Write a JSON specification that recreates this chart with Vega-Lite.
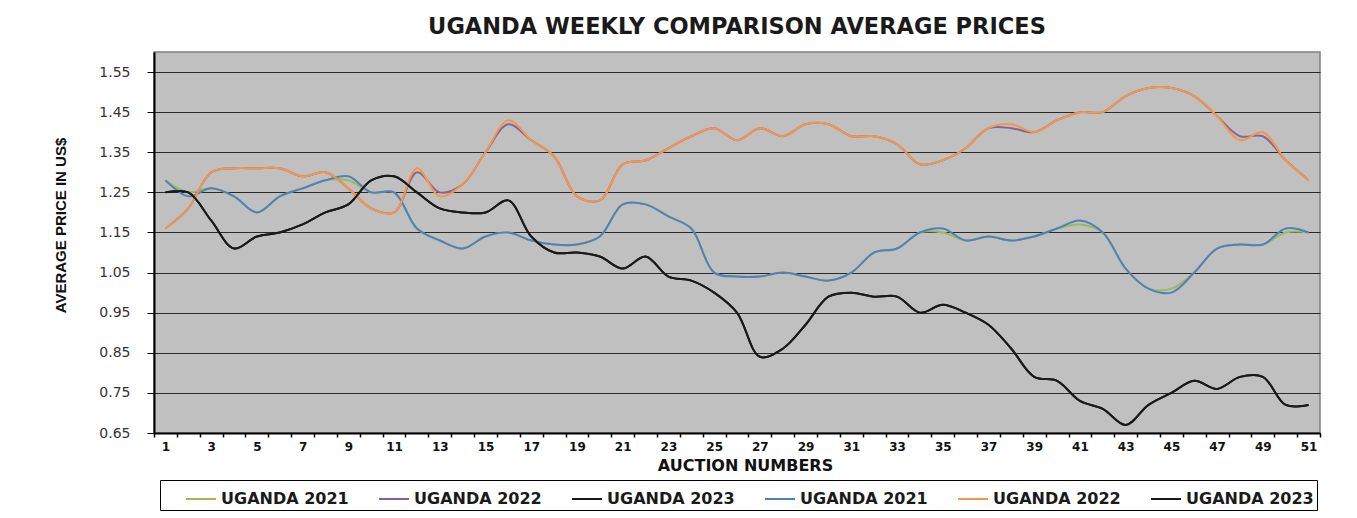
{
  "$schema": "https://vega.github.io/schema/vega-lite/v6.json",
  "width": 1166,
  "height": 381,
  "autosize": {"type": "none"},
  "padding": {"left": 154, "top": 52, "right": 37, "bottom": 85},
  "background": "#ffffff",
  "title": {
    "text": "UGANDA WEEKLY COMPARISON AVERAGE PRICES",
    "font": "DejaVu Sans",
    "fontSize": 22.5,
    "fontWeight": "bold",
    "color": "#1a1a1a",
    "anchor": "middle",
    "baseline": "bottom",
    "offset": -9
  },
  "data": {
    "values": [
      {"n":1,"s":"s1","v":1.28},{"n":2,"s":"s1","v":1.25},{"n":3,"s":"s1","v":1.26},{"n":4,"s":"s1","v":1.24},{"n":5,"s":"s1","v":1.20},{"n":6,"s":"s1","v":1.24},{"n":7,"s":"s1","v":1.26},{"n":8,"s":"s1","v":1.28},{"n":9,"s":"s1","v":1.28},{"n":10,"s":"s1","v":1.25},
      {"n":11,"s":"s1","v":1.25},{"n":12,"s":"s1","v":1.16},{"n":13,"s":"s1","v":1.13},{"n":14,"s":"s1","v":1.11},{"n":15,"s":"s1","v":1.14},{"n":16,"s":"s1","v":1.15},{"n":17,"s":"s1","v":1.13},{"n":18,"s":"s1","v":1.12},{"n":19,"s":"s1","v":1.12},{"n":20,"s":"s1","v":1.14},
      {"n":21,"s":"s1","v":1.22},{"n":22,"s":"s1","v":1.22},{"n":23,"s":"s1","v":1.19},{"n":24,"s":"s1","v":1.16},{"n":25,"s":"s1","v":1.05},{"n":26,"s":"s1","v":1.04},{"n":27,"s":"s1","v":1.04},{"n":28,"s":"s1","v":1.05},{"n":29,"s":"s1","v":1.04},{"n":30,"s":"s1","v":1.03},
      {"n":31,"s":"s1","v":1.05},{"n":32,"s":"s1","v":1.10},{"n":33,"s":"s1","v":1.11},{"n":34,"s":"s1","v":1.15},{"n":35,"s":"s1","v":1.15},{"n":36,"s":"s1","v":1.13},{"n":37,"s":"s1","v":1.14},{"n":38,"s":"s1","v":1.13},{"n":39,"s":"s1","v":1.14},{"n":40,"s":"s1","v":1.16},
      {"n":41,"s":"s1","v":1.17},{"n":42,"s":"s1","v":1.15},{"n":43,"s":"s1","v":1.06},{"n":44,"s":"s1","v":1.01},{"n":45,"s":"s1","v":1.01},{"n":46,"s":"s1","v":1.05},{"n":47,"s":"s1","v":1.11},{"n":48,"s":"s1","v":1.12},{"n":49,"s":"s1","v":1.12},{"n":50,"s":"s1","v":1.15},{"n":51,"s":"s1","v":1.15},

      {"n":1,"s":"s2","v":1.16},{"n":2,"s":"s2","v":1.21},{"n":3,"s":"s2","v":1.30},{"n":4,"s":"s2","v":1.31},{"n":5,"s":"s2","v":1.31},{"n":6,"s":"s2","v":1.31},{"n":7,"s":"s2","v":1.29},{"n":8,"s":"s2","v":1.30},{"n":9,"s":"s2","v":1.26},{"n":10,"s":"s2","v":1.21},
      {"n":11,"s":"s2","v":1.20},{"n":12,"s":"s2","v":1.30},{"n":13,"s":"s2","v":1.25},{"n":14,"s":"s2","v":1.27},{"n":15,"s":"s2","v":1.35},{"n":16,"s":"s2","v":1.42},{"n":17,"s":"s2","v":1.38},{"n":18,"s":"s2","v":1.34},{"n":19,"s":"s2","v":1.24},{"n":20,"s":"s2","v":1.23},
      {"n":21,"s":"s2","v":1.32},{"n":22,"s":"s2","v":1.33},{"n":23,"s":"s2","v":1.36},{"n":24,"s":"s2","v":1.39},{"n":25,"s":"s2","v":1.41},{"n":26,"s":"s2","v":1.38},{"n":27,"s":"s2","v":1.41},{"n":28,"s":"s2","v":1.39},{"n":29,"s":"s2","v":1.42},{"n":30,"s":"s2","v":1.42},
      {"n":31,"s":"s2","v":1.39},{"n":32,"s":"s2","v":1.39},{"n":33,"s":"s2","v":1.37},{"n":34,"s":"s2","v":1.32},{"n":35,"s":"s2","v":1.33},{"n":36,"s":"s2","v":1.36},{"n":37,"s":"s2","v":1.41},{"n":38,"s":"s2","v":1.41},{"n":39,"s":"s2","v":1.40},{"n":40,"s":"s2","v":1.43},
      {"n":41,"s":"s2","v":1.45},{"n":42,"s":"s2","v":1.45},{"n":43,"s":"s2","v":1.49},{"n":44,"s":"s2","v":1.51},{"n":45,"s":"s2","v":1.51},{"n":46,"s":"s2","v":1.49},{"n":47,"s":"s2","v":1.44},{"n":48,"s":"s2","v":1.39},{"n":49,"s":"s2","v":1.39},{"n":50,"s":"s2","v":1.33},{"n":51,"s":"s2","v":1.28},

      {"n":1,"s":"s3","v":1.25},{"n":2,"s":"s3","v":1.25},{"n":3,"s":"s3","v":1.18},{"n":4,"s":"s3","v":1.11},{"n":5,"s":"s3","v":1.14},{"n":6,"s":"s3","v":1.15},{"n":7,"s":"s3","v":1.17},{"n":8,"s":"s3","v":1.20},{"n":9,"s":"s3","v":1.22},{"n":10,"s":"s3","v":1.28},
      {"n":11,"s":"s3","v":1.29},{"n":12,"s":"s3","v":1.25},{"n":13,"s":"s3","v":1.21},{"n":14,"s":"s3","v":1.20},{"n":15,"s":"s3","v":1.20},{"n":16,"s":"s3","v":1.23},{"n":17,"s":"s3","v":1.14},{"n":18,"s":"s3","v":1.10},{"n":19,"s":"s3","v":1.10},{"n":20,"s":"s3","v":1.09},
      {"n":21,"s":"s3","v":1.06},{"n":22,"s":"s3","v":1.09},{"n":23,"s":"s3","v":1.04},{"n":24,"s":"s3","v":1.03},{"n":25,"s":"s3","v":1.00},{"n":26,"s":"s3","v":0.95},{"n":27,"s":"s3","v":0.84},{"n":28,"s":"s3","v":0.86},{"n":29,"s":"s3","v":0.92},{"n":30,"s":"s3","v":0.99},
      {"n":31,"s":"s3","v":1.00},{"n":32,"s":"s3","v":0.99},{"n":33,"s":"s3","v":0.99},{"n":34,"s":"s3","v":0.95},{"n":35,"s":"s3","v":0.97},{"n":36,"s":"s3","v":0.95},{"n":37,"s":"s3","v":0.92},{"n":38,"s":"s3","v":0.86},{"n":39,"s":"s3","v":0.79},{"n":40,"s":"s3","v":0.78},
      {"n":41,"s":"s3","v":0.73},{"n":42,"s":"s3","v":0.71},{"n":43,"s":"s3","v":0.67},{"n":44,"s":"s3","v":0.72},{"n":45,"s":"s3","v":0.75},{"n":46,"s":"s3","v":0.78},{"n":47,"s":"s3","v":0.76},{"n":48,"s":"s3","v":0.79},{"n":49,"s":"s3","v":0.79},{"n":50,"s":"s3","v":0.72},{"n":51,"s":"s3","v":0.72},

      {"n":1,"s":"s4","v":1.28},{"n":2,"s":"s4","v":1.24},{"n":3,"s":"s4","v":1.26},{"n":4,"s":"s4","v":1.24},{"n":5,"s":"s4","v":1.20},{"n":6,"s":"s4","v":1.24},{"n":7,"s":"s4","v":1.26},{"n":8,"s":"s4","v":1.28},{"n":9,"s":"s4","v":1.29},{"n":10,"s":"s4","v":1.25},
      {"n":11,"s":"s4","v":1.25},{"n":12,"s":"s4","v":1.16},{"n":13,"s":"s4","v":1.13},{"n":14,"s":"s4","v":1.11},{"n":15,"s":"s4","v":1.14},{"n":16,"s":"s4","v":1.15},{"n":17,"s":"s4","v":1.13},{"n":18,"s":"s4","v":1.12},{"n":19,"s":"s4","v":1.12},{"n":20,"s":"s4","v":1.14},
      {"n":21,"s":"s4","v":1.22},{"n":22,"s":"s4","v":1.22},{"n":23,"s":"s4","v":1.19},{"n":24,"s":"s4","v":1.16},{"n":25,"s":"s4","v":1.05},{"n":26,"s":"s4","v":1.04},{"n":27,"s":"s4","v":1.04},{"n":28,"s":"s4","v":1.05},{"n":29,"s":"s4","v":1.04},{"n":30,"s":"s4","v":1.03},
      {"n":31,"s":"s4","v":1.05},{"n":32,"s":"s4","v":1.10},{"n":33,"s":"s4","v":1.11},{"n":34,"s":"s4","v":1.15},{"n":35,"s":"s4","v":1.16},{"n":36,"s":"s4","v":1.13},{"n":37,"s":"s4","v":1.14},{"n":38,"s":"s4","v":1.13},{"n":39,"s":"s4","v":1.14},{"n":40,"s":"s4","v":1.16},
      {"n":41,"s":"s4","v":1.18},{"n":42,"s":"s4","v":1.15},{"n":43,"s":"s4","v":1.06},{"n":44,"s":"s4","v":1.01},{"n":45,"s":"s4","v":1.00},{"n":46,"s":"s4","v":1.05},{"n":47,"s":"s4","v":1.11},{"n":48,"s":"s4","v":1.12},{"n":49,"s":"s4","v":1.12},{"n":50,"s":"s4","v":1.16},{"n":51,"s":"s4","v":1.15},

      {"n":1,"s":"s5","v":1.16},{"n":2,"s":"s5","v":1.21},{"n":3,"s":"s5","v":1.30},{"n":4,"s":"s5","v":1.31},{"n":5,"s":"s5","v":1.31},{"n":6,"s":"s5","v":1.31},{"n":7,"s":"s5","v":1.29},{"n":8,"s":"s5","v":1.30},{"n":9,"s":"s5","v":1.26},{"n":10,"s":"s5","v":1.21},
      {"n":11,"s":"s5","v":1.20},{"n":12,"s":"s5","v":1.31},{"n":13,"s":"s5","v":1.24},{"n":14,"s":"s5","v":1.27},{"n":15,"s":"s5","v":1.35},{"n":16,"s":"s5","v":1.43},{"n":17,"s":"s5","v":1.38},{"n":18,"s":"s5","v":1.34},{"n":19,"s":"s5","v":1.24},{"n":20,"s":"s5","v":1.23},
      {"n":21,"s":"s5","v":1.32},{"n":22,"s":"s5","v":1.33},{"n":23,"s":"s5","v":1.36},{"n":24,"s":"s5","v":1.39},{"n":25,"s":"s5","v":1.41},{"n":26,"s":"s5","v":1.38},{"n":27,"s":"s5","v":1.41},{"n":28,"s":"s5","v":1.39},{"n":29,"s":"s5","v":1.42},{"n":30,"s":"s5","v":1.42},
      {"n":31,"s":"s5","v":1.39},{"n":32,"s":"s5","v":1.39},{"n":33,"s":"s5","v":1.37},{"n":34,"s":"s5","v":1.32},{"n":35,"s":"s5","v":1.33},{"n":36,"s":"s5","v":1.36},{"n":37,"s":"s5","v":1.41},{"n":38,"s":"s5","v":1.42},{"n":39,"s":"s5","v":1.40},{"n":40,"s":"s5","v":1.43},
      {"n":41,"s":"s5","v":1.45},{"n":42,"s":"s5","v":1.45},{"n":43,"s":"s5","v":1.49},{"n":44,"s":"s5","v":1.51},{"n":45,"s":"s5","v":1.51},{"n":46,"s":"s5","v":1.49},{"n":47,"s":"s5","v":1.44},{"n":48,"s":"s5","v":1.38},{"n":49,"s":"s5","v":1.40},{"n":50,"s":"s5","v":1.33},{"n":51,"s":"s5","v":1.28},

      {"n":1,"s":"s6","v":1.25},{"n":2,"s":"s6","v":1.25},{"n":3,"s":"s6","v":1.18},{"n":4,"s":"s6","v":1.11},{"n":5,"s":"s6","v":1.14},{"n":6,"s":"s6","v":1.15},{"n":7,"s":"s6","v":1.17},{"n":8,"s":"s6","v":1.20},{"n":9,"s":"s6","v":1.22},{"n":10,"s":"s6","v":1.28},
      {"n":11,"s":"s6","v":1.29},{"n":12,"s":"s6","v":1.25},{"n":13,"s":"s6","v":1.21},{"n":14,"s":"s6","v":1.20},{"n":15,"s":"s6","v":1.20},{"n":16,"s":"s6","v":1.23},{"n":17,"s":"s6","v":1.14},{"n":18,"s":"s6","v":1.10},{"n":19,"s":"s6","v":1.10},{"n":20,"s":"s6","v":1.09},
      {"n":21,"s":"s6","v":1.06},{"n":22,"s":"s6","v":1.09},{"n":23,"s":"s6","v":1.04},{"n":24,"s":"s6","v":1.03},{"n":25,"s":"s6","v":1.00},{"n":26,"s":"s6","v":0.95},{"n":27,"s":"s6","v":0.84},{"n":28,"s":"s6","v":0.86},{"n":29,"s":"s6","v":0.92},{"n":30,"s":"s6","v":0.99},
      {"n":31,"s":"s6","v":1.00},{"n":32,"s":"s6","v":0.99},{"n":33,"s":"s6","v":0.99},{"n":34,"s":"s6","v":0.95},{"n":35,"s":"s6","v":0.97},{"n":36,"s":"s6","v":0.95},{"n":37,"s":"s6","v":0.92},{"n":38,"s":"s6","v":0.86},{"n":39,"s":"s6","v":0.79},{"n":40,"s":"s6","v":0.78},
      {"n":41,"s":"s6","v":0.73},{"n":42,"s":"s6","v":0.71},{"n":43,"s":"s6","v":0.67},{"n":44,"s":"s6","v":0.72},{"n":45,"s":"s6","v":0.75},{"n":46,"s":"s6","v":0.78},{"n":47,"s":"s6","v":0.76},{"n":48,"s":"s6","v":0.79},{"n":49,"s":"s6","v":0.79},{"n":50,"s":"s6","v":0.72},{"n":51,"s":"s6","v":0.72}
    ]
  },
  "mark": {"type": "line", "interpolate": "catmull-rom"},
  "encoding": {
    "x": {
      "field": "n",
      "type": "ordinal",
      "scale": {"type": "band", "paddingInner": 0, "paddingOuter": 0},
      "axis": {
        "title": "AUCTION NUMBERS",
        "titleFont": "DejaVu Sans",
        "titleFontSize": 16,
        "titleFontWeight": "bold",
        "titleColor": "#111111",
        "titlePadding": 5,
        "titleX": 591,
        "labelAngle": 0,
        "labelOverlap": false,
        "labelExpr": "datum.value % 2 == 1 ? datum.label : ''",
        "labelFont": "DejaVu Sans",
        "labelFontSize": 12,
        "labelFontWeight": "bold",
        "labelColor": "#111111",
        "labelPadding": 4,
        "tickBand": "extent",
        "tickSize": 4,
        "tickColor": "#000000",
        "tickWidth": 1.5,
        "domainColor": "#000000",
        "domainWidth": 2,
        "grid": false
      }
    },
    "y": {
      "field": "v",
      "type": "quantitative",
      "scale": {"domain": [0.65, 1.6], "nice": false, "zero": false},
      "axis": {
        "title": "AVERAGE PRICE IN US$",
        "titleFont": "Liberation Sans",
        "titleFontSize": 15,
        "titleFontWeight": "bold",
        "titleColor": "#111111",
        "titlePadding": 30,
        "titleY": 173,
        "values": [0.65, 0.75, 0.85, 0.95, 1.05, 1.15, 1.25, 1.35, 1.45, 1.55],
        "format": ".2f",
        "labelFont": "DejaVu Sans",
        "labelFontSize": 14,
        "labelColor": "#333333",
        "labelPadding": 17,
        "tickSize": 7,
        "tickColor": "#000000",
        "tickWidth": 1,
        "domainColor": "#000000",
        "domainWidth": 2,
        "grid": true,
        "gridColor": "#2a2a2a",
        "gridWidth": 1
      }
    },
    "color": {
      "field": "s",
      "type": "nominal",
      "scale": {
        "domain": ["s1", "s2", "s3", "s4", "s5", "s6"],
        "range": ["#9bbb59", "#8064a2", "#1a1a1a", "#4f81bd", "#f79646", "#1a1a1a"]
      },
      "legend": {
        "title": null,
        "orient": "none",
        "legendX": 6,
        "legendY": 428,
        "direction": "horizontal",
        "columns": 6,
        "columnPadding": 7,
        "padding": 3,
        "strokeColor": "#000000",
        "fillColor": "#ffffff",
        "symbolType": "stroke",
        "symbolSize": 900,
        "symbolOffset": 22,
        "symbolStrokeWidth": 2.5,
        "labelFont": "DejaVu Sans",
        "labelFontSize": 16,
        "labelFontWeight": "bold",
        "labelColor": "#1a1a1a",
        "labelOffset": 4,
        "labelExpr": "(datum.label == 's1' || datum.label == 's4') ? 'UGANDA 2021' : ((datum.label == 's2' || datum.label == 's5') ? 'UGANDA 2022' : 'UGANDA 2023')"
      }
    },
    "strokeWidth": {
      "field": "s",
      "type": "nominal",
      "scale": {"domain": ["s1", "s2", "s3", "s4", "s5", "s6"], "range": [2, 2, 3.5, 3, 3, 3.5]},
      "legend": null
    }
  },
  "config": {
    "view": {"fill": "#c0c0c0", "stroke": "#808080", "strokeWidth": 1.5}
  }
}
